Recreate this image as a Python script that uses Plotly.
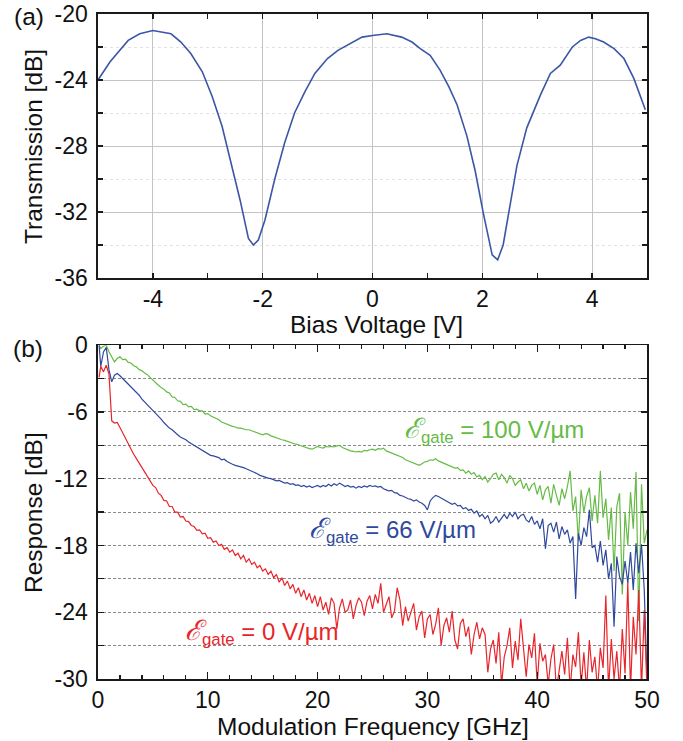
import plotly.graph_objects as go

# ---------------- Panel (a): transmission vs bias ----------------
bias_v = [-5.0, -4.78, -4.45, -4.24, -4.0, -3.8, -3.67, -3.49, -3.31, -3.1, -2.92, -2.74,
          -2.56, -2.41, -2.26, -2.17, -2.08, -1.96, -1.78, -1.6, -1.42, -1.23, -1.05,
          -0.82, -0.63, -0.19, 0.0, 0.26, 0.53, 0.72, 0.87, 1.05, 1.23, 1.39, 1.54, 1.72,
          1.87, 2.02, 2.18, 2.28, 2.38, 2.51, 2.63, 2.81, 3.06, 3.24, 3.42, 3.64, 3.79,
          3.94, 4.06, 4.21, 4.4, 4.58, 4.76, 4.97]
transmission_db = [-24.0, -22.9, -21.6, -21.2, -21.0, -21.1, -21.2, -21.7, -22.4, -23.5, -25.0,
                   -26.8, -29.2, -31.3, -33.6, -34.0, -33.7, -32.5, -30.0, -27.8, -26.0, -24.7,
                   -23.6, -22.7, -22.2, -21.4, -21.3, -21.2, -21.4, -21.7, -22.1, -22.5, -23.4,
                   -24.4, -25.5, -27.4, -29.5, -32.1, -34.6, -34.9, -34.0, -31.5, -29.2, -26.9,
                   -24.9, -23.6, -23.1, -22.0, -21.6, -21.4, -21.5, -21.7, -22.1, -22.7, -23.9,
                   -25.8]

a_xtick_vals = [-4, -2, 0, 2, 4]
a_xtick_text = ["-4", "-2", "0", "2", "4"]
a_ytick_vals = [-20, -24, -28, -32, -36]
a_ytick_text = ["-20", "-24", "-28", "-32", "-36"]

# ---------------- Panel (b): frequency response ----------------
# first value at 0.1 GHz, then a 0.25 GHz grid (each row covers 5 GHz)
resp_100 = [0.0,
    -0.3, -0.1, 0.0, -0.6, -1.1, -1.5, -1.2, -1.05, -1.3, -1.25, -1.55, -1.6, -1.85, -1.95, -2.2, -2.3, -2.5, -2.65, -2.9, -3.15,
    -3.35, -3.6, -3.8, -3.95, -4.2, -4.3, -4.65, -4.7, -5.0, -5.05, -5.35, -5.3, -5.55, -5.5, -5.8, -5.75, -5.9, -5.9, -6.2, -6.15,
    -6.35, -6.45, -6.6, -6.7, -6.9, -7.0, -7.15, -7.2, -7.3, -7.35, -7.45, -7.45, -7.55, -7.6, -7.6, -7.7, -7.8, -7.85, -8.0, -8.05,
    -7.95, -8.0, -8.15, -8.25, -8.35, -8.4, -8.5, -8.55, -8.65, -8.75, -8.8, -8.9, -8.95, -9.05, -9.1, -9.2, -9.3, -9.35, -9.25, -9.1,
    -9.2, -9.25, -9.1, -9.15, -9.1, -9.15, -9.05, -9.0, -9.2, -9.3, -9.45, -9.5, -9.55, -9.6, -9.55, -9.6, -9.45, -9.5, -9.4, -9.35,
    -9.45, -9.3, -9.35, -9.25, -9.5, -9.6, -9.7, -9.8, -9.85, -9.95, -10.1, -10.3, -10.4, -10.55, -10.6, -10.75, -10.8, -10.65, -10.5, -10.45,
    -10.3, -10.35, -10.2, -10.4, -10.5, -10.6, -10.7, -10.85, -10.95, -11.05, -11.0, -11.25, -11.2, -11.5, -11.3, -11.6, -11.45, -11.85, -11.7, -12.1,
    -11.8, -12.3, -12.0, -11.6, -11.5, -12.1, -11.6, -11.9, -12.4, -11.7, -12.0, -12.6, -12.3, -12.1, -12.9, -12.4, -13.1, -12.6, -12.4, -13.4,
    -12.6, -13.9, -13.0, -12.7, -14.2, -12.5, -13.5, -14.4, -12.9, -13.8, -12.7, -11.3, -14.9, -13.6, -17.6, -13.0, -15.0, -13.6, -12.8, -15.8,
    -13.5, -16.0, -11.3, -15.5, -13.8, -17.5, -14.6, -20.3, -14.5, -13.3, -22.4, -15.0, -18.0, -13.2, -16.5, -11.4, -24.8, -12.5, -17.8, -16.6]

resp_66 = [0.0,
    -1.9, -0.6, -0.2, -2.2, -3.3, -2.7, -2.55, -2.75, -3.0, -3.2, -3.45, -3.7, -4.0, -4.25, -4.5, -4.85, -5.1, -5.4, -5.65, -5.9,
    -6.1, -6.35, -6.65, -6.95, -7.2, -7.45, -7.6, -7.85, -8.05, -8.25, -8.35, -8.5, -8.7, -8.85, -9.05, -9.15, -9.3, -9.45, -9.6, -9.75,
    -9.9, -9.95, -10.05, -10.1, -10.3, -10.25, -10.45, -10.6, -10.7, -10.8, -10.85, -10.9, -11.0, -11.1, -11.2, -11.3, -11.45, -11.55, -11.7, -11.8,
    -11.85, -11.95, -12.0, -12.1, -12.2, -12.15, -12.3, -12.4, -12.35, -12.5, -12.45, -12.6, -12.55, -12.7, -12.6, -12.75, -12.65, -12.8, -12.7, -12.6,
    -12.75, -12.6, -12.7, -12.5, -12.65, -12.45, -12.6, -12.4, -12.55, -12.7, -12.6, -12.75, -12.7, -12.85, -12.7, -12.8, -12.65, -12.75, -12.6, -12.7,
    -12.65, -12.75, -12.7, -12.9, -13.0, -13.1, -13.05, -13.25, -13.3, -13.5, -13.55, -13.7, -13.8, -13.85, -14.0, -13.9, -14.1, -14.2, -14.4, -14.8,
    -14.0, -13.7, -13.5, -13.6, -13.75, -13.9, -14.05, -14.2, -14.3, -14.2, -14.45, -14.4, -14.7, -14.6, -14.85, -14.75, -15.1, -14.9, -15.4, -15.2,
    -15.6, -15.3, -16.0, -15.8, -15.4, -15.9, -15.5, -15.2, -15.6, -15.1, -15.4, -15.0, -15.6, -15.3, -15.2, -15.7, -15.9, -15.4, -16.1, -15.8,
    -16.5, -15.6, -18.3, -16.2, -16.0, -16.8, -15.9, -17.4, -16.3, -17.0, -16.6, -17.8, -17.2, -22.8, -16.9, -18.0, -16.4, -17.2, -14.8, -18.2,
    -18.0, -19.5, -17.6, -19.8, -18.4, -21.0, -19.6, -25.3, -19.0, -20.8, -21.5, -19.4, -21.4, -18.6, -22.0, -17.8, -20.5, -17.9, -22.0, -30.0]

resp_0 = [-2.9,
    -1.9, -2.4, -1.8, -2.6, -6.8, -7.0, -6.95, -7.4, -7.9, -8.3, -8.8, -9.3, -9.8, -10.2, -10.6, -11.1, -11.5, -11.9, -12.3, -12.6,
    -12.8, -13.3, -13.5, -13.95, -14.0, -14.5, -14.5, -15.0, -15.0, -15.45, -15.4, -15.8, -15.85, -16.2, -16.3, -16.65, -16.6, -16.95, -16.9, -17.35,
    -17.3, -17.7, -17.6, -18.0, -17.9, -18.35, -18.2, -18.6, -18.4, -18.9, -18.7, -19.2, -18.9, -19.5, -19.2, -19.7, -19.5, -20.0, -19.8, -20.3,
    -20.1, -20.6, -20.3, -20.9, -20.6, -21.3, -20.9, -21.6, -21.2, -21.9, -21.5, -22.3, -21.8, -22.6, -22.0, -22.9, -22.3, -23.2, -22.5, -23.5,
    -22.6, -23.8, -23.1, -24.2, -22.7, -23.2, -25.5, -23.6, -22.8, -24.0, -23.8, -22.9, -24.6, -23.4, -22.7, -23.1, -24.3, -23.0, -22.5, -23.7,
    -22.4, -23.2, -21.4, -24.0, -23.3, -22.6, -24.5, -23.9, -21.8, -22.9, -25.2, -23.5, -24.8, -24.0, -23.2, -25.6, -24.4, -23.9, -26.3, -24.6,
    -24.2, -26.0, -25.1, -23.6, -27.0, -25.2, -24.5, -25.8, -23.9, -26.5, -27.3, -25.0, -24.6, -26.2, -25.3, -27.8, -26.0, -24.9, -26.4, -25.4,
    -26.0, -29.4, -27.3, -26.5, -28.6, -25.8, -30.5, -28.0, -27.0, -25.4, -29.0, -26.6, -28.3, -24.6, -27.2, -29.8, -26.9, -28.1, -25.9, -30.5,
    -26.8, -28.4, -27.8, -30.5, -28.2, -26.9, -31.0, -29.0, -27.5, -29.6, -26.3, -31.0, -27.8, -28.9, -25.8, -30.6, -27.6, -31.0, -26.5, -29.4,
    -28.0, -31.0, -27.2, -29.0, -22.5, -31.0, -26.4, -30.0, -27.5, -31.0, -25.5, -29.5, -21.3, -31.0, -24.4, -27.8, -22.0, -31.0, -23.8, -31.0]

freq_ghz = [0.1] + [round(0.25 * k, 2) for k in range(1, len(resp_100))]

b_xtick_vals = [0, 10, 20, 30, 40, 50]
b_xtick_text = ["0", "10", "20", "30", "40", "50"]
b_ytick_vals = [0, -6, -12, -18, -24, -30]
b_ytick_text = ["0", "-6", "-12", "-18", "-24", "-30"]

series_names = ["100 V/µm", "66 V/µm", "0 V/µm"]

FONT = "Liberation Sans, Arial, Helvetica, sans-serif"
GREEN = "#66bb46"
BLUE = "#30499c"
RED = "#e8252a"
BLUE_A = "#3b56a6"

fig = go.Figure()
fig.add_trace(go.Scatter(x=bias_v, y=transmission_db, mode="lines",
                         line=dict(color=BLUE_A, width=1.6), xaxis="x", yaxis="y",
                         showlegend=False, hoverinfo="skip"))
for vals, col, nm in [(resp_100, GREEN, series_names[0]), (resp_66, BLUE, series_names[1]),
                      (resp_0, RED, series_names[2])]:
    fig.add_trace(go.Scatter(x=freq_ghz, y=vals, mode="lines", name=nm,
                             line=dict(color=col, width=1.2), xaxis="x2", yaxis="y2",
                             showlegend=False, hoverinfo="skip"))

axis_common = dict(showline=True, linecolor="#1a1a1a", linewidth=1.6, mirror="ticks",
                   ticks="inside", tickcolor="#1a1a1a", tickwidth=1.2, zeroline=False,
                   automargin=False,
                   tickfont=dict(family=FONT, size=23, color="#111"))

fig.update_layout(
    width=683, height=741,
    margin=dict(l=98, r=36, t=14, b=62, autoexpand=False),
    paper_bgcolor="white", plot_bgcolor="white",
    font=dict(family=FONT, color="#111"),
    xaxis=dict(domain=[0, 1], anchor="y", range=[-5, 5], tickmode="array",
               tickvals=a_xtick_vals, ticktext=a_xtick_text, ticklen=5,
               showgrid=True, gridcolor="#c4c4c4", gridwidth=1,
               minor=dict(tickmode="array", tickvals=[-3, -1, 1, 3], ticks="inside",
                          ticklen=5, tickcolor="#1a1a1a", showgrid=False),
               ticklabelstandoff=0, **axis_common),
    yaxis=dict(domain=[0.603, 1], anchor="x", range=[-36, -20], tickmode="array",
               tickvals=a_ytick_vals, ticktext=a_ytick_text, ticklen=5,
               showgrid=True, gridcolor="#c4c4c4", gridwidth=1,
               minor=dict(tickmode="array", tickvals=[-22, -26, -30, -34], ticks="inside",
                          ticklen=5, tickcolor="#1a1a1a", showgrid=True,
                          gridcolor="#e2e2e2", griddash="dot", gridwidth=1),
               ticklabelstandoff=4, **axis_common),
    xaxis2=dict(domain=[0, 1], anchor="y2", range=[0, 50], tickmode="array",
                tickvals=b_xtick_vals, ticktext=b_xtick_text, ticklen=7, showgrid=False,
                minor=dict(tickmode="array",
                           tickvals=[v for v in range(2, 50, 2) if v % 10 != 0],
                           ticks="inside", ticklen=4, tickcolor="#1a1a1a", showgrid=False),
                ticklabelstandoff=0, **axis_common),
    yaxis2=dict(domain=[0, 0.502], anchor="x2", range=[-30, 0], tickmode="array",
                tickvals=b_ytick_vals, ticktext=b_ytick_text, ticklen=6,
                showgrid=True, gridcolor="#8a8a8a", gridwidth=1, griddash="3px,2px",
                minor=dict(tickmode="array", tickvals=[-3, -9, -15, -21, -27], ticks="inside",
                           ticklen=6, tickcolor="#1a1a1a", showgrid=True,
                           gridcolor="#8a8a8a", griddash="3px,2px", gridwidth=1),
                ticklabelstandoff=4, **axis_common),
)

title_font = dict(family=FONT, size=24.5, color="#111")
ann = [
    dict(text="(a)", x=-0.1257, y=0.9955, xref="paper", yref="paper", showarrow=False,
         xanchor="center", yanchor="middle", font=title_font),
    dict(text="(b)", x=-0.1275, y=0.4977, xref="paper", yref="paper", showarrow=False,
         xanchor="center", yanchor="middle", font=title_font),
    dict(text="Transmission [dB]", x=-0.1184, y=0.8015, xref="paper", yref="paper",
         showarrow=False, textangle=-90, xanchor="center", yanchor="middle", font=title_font),
    dict(text="Bias Voltage [V]", x=0.508, y=0.5338, xref="paper", yref="paper",
         showarrow=False, xanchor="center", yanchor="middle", font=title_font),
    dict(text="Response [dB]", x=-0.1184, y=0.2511, xref="paper", yref="paper",
         showarrow=False, textangle=-90, xanchor="center", yanchor="middle", font=title_font),
    dict(text="Modulation Frequency [GHz]", x=0.5007, y=-0.0715, xref="paper", yref="paper",
         showarrow=False, xanchor="center", yanchor="middle", font=title_font),
]
label_pos = [(27.7, -7.64, GREEN, series_names[0]), (19.0, -16.6, BLUE, series_names[1]),
             (7.74, -25.8, RED, series_names[2])]
for lx, ly, col, nm in label_pos:
    ann.append(dict(text="<span style='font-size:28px'><i>ℰ</i></span><sub>gate</sub> = " + nm,
                    x=lx, y=ly, xref="x2", yref="y2",
                    showarrow=False, xanchor="left", yanchor="middle",
                    font=dict(family=FONT, size=24, color=col)))
fig.update_layout(annotations=ann)

fig.write_html("out.html", config={"displayModeBar": False, "staticPlot": True},
               post_script="document.body.style.margin='0px';document.body.style.overflow='hidden';")
